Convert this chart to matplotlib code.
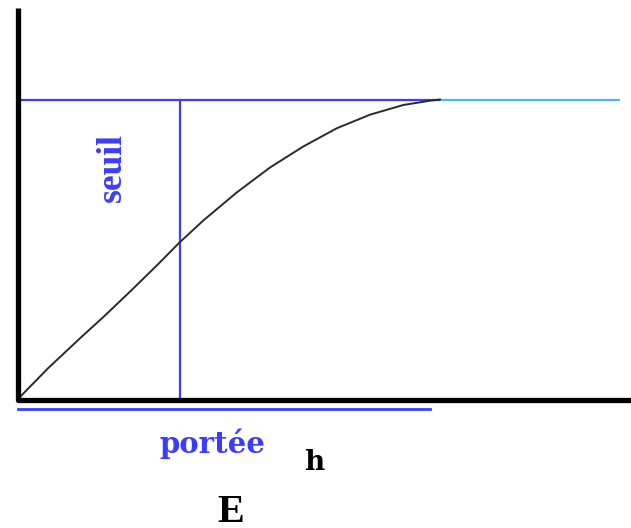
import matplotlib
matplotlib.use("Agg")
import matplotlib.pyplot as plt

# Curve (h, gamma), arbitrary units
curve_h = [0.0, 0.308, 0.642, 0.875, 1.142, 1.408, 1.615, 1.858, 2.192,
           2.525, 2.858, 3.192, 3.525, 3.858, 4.125, 4.225]
curve_g = [0.0, 0.315, 0.628, 0.84, 1.095, 1.355, 1.565, 1.79, 2.07,
           2.32, 2.53, 2.712, 2.848, 2.945, 2.988, 3.0]
sill = 3.0
range_h = 4.225     # where curve reaches the sill
portee_h = 1.625    # vertical marker
labels = {"seuil": "seuil", "portee": "portée", "h": "h", "E": "E"}

fig = plt.figure(figsize=(6.31, 5.28), dpi=100)
ax = fig.add_axes([0, 0, 1, 1])
ax.set_xlim(-0.175, 6.135)
ax.set_ylim(-1.285, 3.995)
ax.axis("off")

blue = "#3c3cff"
light = "#4fb4ff"

# sill lines
ax.plot([0, range_h], [sill, sill], color=blue, lw=1.6, solid_capstyle="butt")
ax.plot([range_h, 6.025], [sill, sill], color=light, lw=1.6, solid_capstyle="butt")
# portee vertical
ax.plot([portee_h, portee_h], [0, sill], color=blue, lw=1.6)
# underline of portee
ax.plot([0.005, 4.125], [-0.095, -0.095], color=blue, lw=2.0)

# curve
ax.plot(curve_h, curve_g, color="#2a2a2a", lw=1.4, solid_joinstyle="round")

# axes (black, thick)
ax.plot([-0.0, -0.0, 6.2], [3.915, 0.0, 0.0], color="black", lw=3.8,
        solid_joinstyle="round", solid_capstyle="butt")

serif = dict(family="Liberation Serif", fontweight="bold")
wide = dict(family="DejaVu Serif", fontweight="bold")
ax.text(1.032, 2.32, labels["seuil"], color=blue, rotation=90, rotation_mode="anchor",
        ha="center", va="baseline", fontsize=25.5, **serif)
ax.text(1.95, -0.535, labels["portee"], color=blue, ha="center", va="baseline",
        fontsize=21, **wide)
ax.text(2.97, -0.705, labels["h"], color="black", ha="center", va="baseline",
        fontsize=20, **wide)
ax.text(2.135, -1.225, labels["E"], color="black", ha="center", va="baseline",
        fontsize=29, **serif)

fig.savefig("out.png", dpi=100)
